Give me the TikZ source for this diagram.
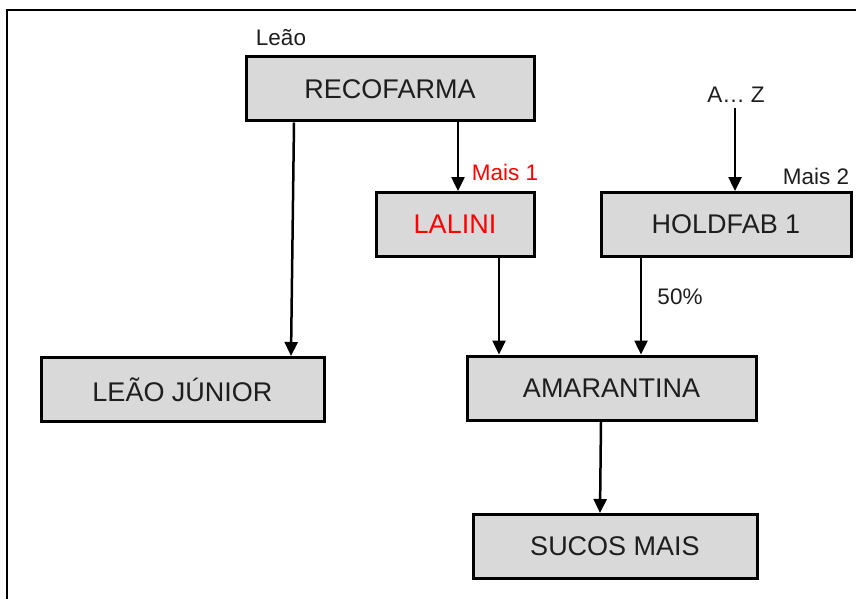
\documentclass[tikz,border=0pt]{standalone}
\usepackage{fontspec}
\setmainfont{Liberation Sans}
\usetikzlibrary{arrows.meta}
\definecolor{boxfill}{HTML}{D9D9D9}
\definecolor{txt}{HTML}{1E1E1E}
\tikzset{
  orgbox/.style={draw=black, line width=3pt, fill=boxfill, minimum width=#1, minimum height=64pt, inner sep=0pt, font=\fontsize{27}{32}\selectfont, text=txt},
  lbl/.style={font=\fontsize{22.5}{26}\selectfont, text=txt, inner sep=0pt},
  arr/.style={line width=2.5pt, -{Triangle[width=13pt,length=14pt]}},
  frameline/.style={line width=2pt}
}
\begin{document}
\begin{tikzpicture}[x=1pt,y=-1pt]
\useasboundingbox (0,0) rectangle (859,599);
\draw[frameline] (7,599) -- (7,10) -- (856,10);
\node[orgbox=288pt] (reco) at (390,89) {RECOFARMA};
\node[orgbox=158pt, text=red] (lalini) at (455,224.5) {LALINI};
\node[orgbox=250pt] (hold) at (726,224.5) {HOLDFAB 1};
\node[orgbox=283pt] (ljr) at (182.5,389.5) {LEÃO JÚNIOR};
\node[orgbox=289pt] (amar) at (611.5,388) {AMARANTINA};
\node[orgbox=284pt] (sucos) at (615,546.5) {SUCOS MAIS};
\node[lbl] (leao) at (281,38) {Leão};
\node[lbl] (az) at (736,95) {A… Z};
\node[lbl, text=red] (mais1) at (505,172) {Mais 1};
\node[lbl] (mais2) at (816,176) {Mais 2};
\node[lbl] (pct) at (680,297) {50\%};
\draw[arr] ([xshift=-96pt]reco.south) -- ([xshift=108.5pt]ljr.north);
\draw[arr] ([xshift=68pt]reco.south) -- ([xshift=3pt]lalini.north);
\draw[arr] ([xshift=44pt]lalini.south) -- ([xshift=-112.5pt]amar.north);
\draw[arr] ([xshift=-85pt]hold.south) -- ([xshift=29.5pt]amar.north);
\draw[arr] ([xshift=-1pt,yshift=-5pt]az.south) -- ([xshift=9pt]hold.north);
\draw[arr] ([xshift=-10.5pt]amar.south) -- ([xshift=-15pt]sucos.north);
\end{tikzpicture}
\end{document}
